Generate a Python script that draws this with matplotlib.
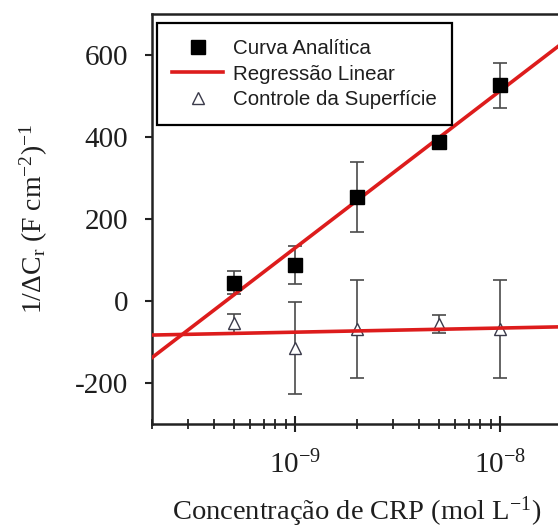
import matplotlib
matplotlib.use('Agg')
import matplotlib.pyplot as plt
import numpy as np

plt.rcParams['font.family'] = ['Liberation Serif', 'DejaVu Serif']
plt.rcParams['mathtext.fontset'] = 'custom'
plt.rcParams['mathtext.rm'] = 'Liberation Serif'
plt.rcParams['mathtext.it'] = 'Liberation Serif:italic'
plt.rcParams['mathtext.bf'] = 'Liberation Serif:bold'
plt.rcParams['axes.unicode_minus'] = False

# concentrations (mol/L)
conc = [5e-10, 1e-9, 2e-9, 5e-9, 1e-8]

# analytical curve
curva_y = [44, 88, 254, 388, 526]
curva_err = [28, 47, 86, 6, 55]

# surface control
controle_y = [-54, -115, -69, -57, -68]
controle_err = [23, 113, 120, 22, 120]

xlim = (2e-10, 2e-8)
ylim = (-300, 700)
red = '#dd1c1c'
text_col = '#1e1e1e'

fig = plt.figure(figsize=(5.58, 5.31), dpi=100)
ax = fig.add_axes([0.2724, 0.2015, 0.7348, 0.7721])

logc = np.log10(conc)
fit_a = np.polyfit(logc, curva_y, 1)
fit_c = np.polyfit(logc, controle_y, 1)
xx = np.logspace(np.log10(xlim[0]), np.log10(xlim[1]), 50)

ax.errorbar(conc, controle_y, yerr=controle_err, fmt='none', ecolor='#4a4a4a',
            elinewidth=1.2, capsize=5, capthick=1.2, zorder=2)
ax.errorbar(conc, curva_y, yerr=curva_err, fmt='none', ecolor='#4a4a4a',
            elinewidth=1.2, capsize=5, capthick=1.2, zorder=2)
ax.plot(conc, controle_y, '^', ms=8, mfc='white', mec='#3a3a4a', mew=1.0,
        label='Controle da Superfície', zorder=3)
ax.plot(xx, np.polyval(fit_c, np.log10(xx)), color=red, lw=2.6, zorder=4)
ax.plot(xx, np.polyval(fit_a, np.log10(xx)), color=red, lw=2.6, zorder=4,
        label='Regressão Linear')
ax.plot(conc, curva_y, 's', ms=9.5, color='black', label='Curva Analítica',
        zorder=5)

ax.set_xscale('log')
ax.set_xlim(*xlim)
ax.set_ylim(*ylim)
ax.set_yticks([-200, 0, 200, 400, 600])
ax.set_xticks([1e-9, 1e-8])
ax.set_xticklabels([r'$\mathregular{10^{-9}}$', r'$\mathregular{10^{-8}}$'])

for s in ax.spines.values():
    s.set_linewidth(1.8)
    s.set_color('#222222')
ax.tick_params(axis='y', direction='out', length=5, width=1.5, pad=12,
               labelsize=21, colors='#222222', labelcolor=text_col)
ax.tick_params(axis='x', which='major', direction='inout', length=12,
               width=1.5, pad=13, labelsize=21, colors='#222222',
               labelcolor=text_col)
ax.tick_params(axis='x', which='minor', direction='inout', length=7,
               width=1.3, colors='#222222')

ax.set_xlabel(r'Concentração de CRP (mol L$^{\mathregular{-1}}$)',
              fontsize=20.5, color=text_col, labelpad=11)
ax.set_ylabel(r'1/ΔC$_{\mathregular{r}}$ (F cm$^{\mathregular{-2}}$)$^{\mathregular{-1}}$',
              fontsize=20, color=text_col, labelpad=18)

handles, labels = ax.get_legend_handles_labels()
order = [2, 1, 0]
leg = ax.legend([handles[i] for i in order], [labels[i] for i in order],
                loc='upper left', bbox_to_anchor=(0.012, 0.977),
                bbox_transform=ax.transAxes, borderaxespad=0,
                prop={'family': 'Liberation Sans', 'size': 14.8},
                fancybox=False, framealpha=1, edgecolor='black',
                handlelength=2.45, handletextpad=0.5, labelspacing=0.33,
                borderpad=0.75)
leg.get_frame().set_linewidth(1.6)
for t in leg.get_texts():
    t.set_color(text_col)

fig.savefig('out.png', dpi=100)
